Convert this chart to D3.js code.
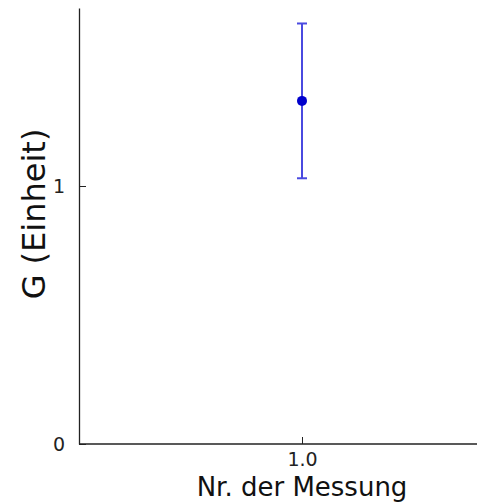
<!DOCTYPE html>
<html>
<head>
<meta charset="utf-8">
<script src="https://cdn.jsdelivr.net/npm/d3@7"></script>
<style>
  body { margin: 0; background: #fff; }
  svg { display: block; font-family: "DejaVu Sans", sans-serif; }
</style>
</head>
<body>
<svg id="chart"></svg>
<script>
// data
const messungen = [1.0];
const werte = [1.33];
const fehler = [0.30];
const yTicks = [0, 1];
const xTicks = [1.0];

const W = 477, H = 503;
const margin = { left: 79, top: 8, bottom: 59 };

const svg = d3.select("#chart").attr("width", W).attr("height", H);

const x = d3.scaleLinear().domain([0.5, 1.5]).range([margin.left, margin.left + 446]);
const y = d3.scaleLinear().domain([0, 1.69]).range([H - margin.bottom, margin.top]);

// axes (ticks point inward)
const yAxis = d3.axisLeft(y).tickValues(yTicks).tickFormat(d3.format("d")).tickSizeInner(-7).tickSizeOuter(0).tickPadding(14);
const xAxis = d3.axisBottom(x).tickValues(xTicks).tickFormat(d3.format(".1f")).tickSizeInner(-7).tickSizeOuter(0).tickPadding(9);

const gx = svg.append("g")
    .attr("transform", `translate(0,${y(0)})`)
    .call(xAxis);
gx.select(".domain").attr("stroke", "#222").attr("stroke-width", 1.3).attr("d", `M${margin.left},0H${W}`);
gx.selectAll(".tick line").attr("stroke", "#222");
gx.selectAll(".tick text").attr("font-size", 19).attr("fill", "#222").attr("font-family", "DejaVu Sans");

const gy = svg.append("g")
    .attr("transform", `translate(${margin.left},0)`)
    .call(yAxis);
gy.select(".domain").attr("stroke", "#222").attr("stroke-width", 1.3);
gy.selectAll(".tick line").attr("stroke", "#222");
gy.selectAll(".tick text").attr("font-size", 19).attr("fill", "#222").attr("font-family", "DejaVu Sans");

// error bars
const pts = messungen.map((m, i) => ({ m, v: werte[i], e: fehler[i] }));
const err = svg.append("g").attr("stroke", "#4a4ae0").attr("stroke-width", 2);
err.selectAll("line.bar").data(pts).join("line").attr("class", "bar")
    .attr("x1", d => x(d.m)).attr("x2", d => x(d.m))
    .attr("y1", d => y(d.v - d.e)).attr("y2", d => y(d.v + d.e));
err.selectAll("line.capTop").data(pts).join("line").attr("class", "capTop")
    .attr("x1", d => x(d.m) - 5).attr("x2", d => x(d.m) + 5)
    .attr("y1", d => y(d.v + d.e)).attr("y2", d => y(d.v + d.e));
err.selectAll("line.capBot").data(pts).join("line").attr("class", "capBot")
    .attr("x1", d => x(d.m) - 5).attr("x2", d => x(d.m) + 5)
    .attr("y1", d => y(d.v - d.e)).attr("y2", d => y(d.v - d.e));

svg.selectAll("circle").data(pts).join("circle")
    .attr("cx", d => x(d.m)).attr("cy", d => y(d.v))
    .attr("r", 5).attr("fill", "#0000cc");

// axis labels
svg.append("text")
    .attr("x", x(1.0)).attr("y", 496)
    .attr("text-anchor", "middle").attr("font-size", 26).attr("fill", "#111")
    .text("Nr. der Messung");

svg.append("text")
    .attr("transform", "translate(45,214) rotate(-90)")
    .attr("text-anchor", "middle").attr("font-size", 32).attr("fill", "#111")
    .text("G (Einheit)");
</script>
</body>
</html>
